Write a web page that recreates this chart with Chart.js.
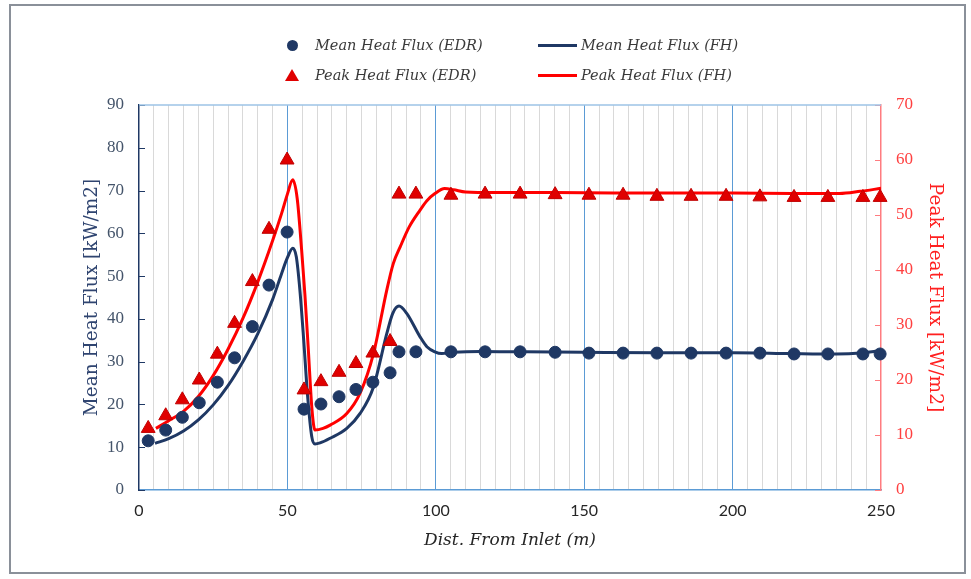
<!DOCTYPE html>
<html>
<head>
<meta charset="utf-8">
<script src="https://cdn.jsdelivr.net/npm/chart.js@4.4.1/dist/chart.umd.min.js"></script>
<style>
  html, body { margin: 0; padding: 0; background: #fff; }
  #wrap { position: relative; width: 971px; height: 579px; }
  #frame { position: absolute; left: 9px; top: 4px; width: 957px; height: 570px;
           border: 2px solid #8a9099; box-sizing: border-box; pointer-events: none; }
  .lg-text { position: absolute; font: italic 14.5px "DejaVu Serif"; color: #3a3a3a;
             line-height: 20px; white-space: nowrap; }
  .lg-dot { position: absolute; width: 11px; height: 11px; border-radius: 50%; }
  .lg-tri { position: absolute; width: 0; height: 0; border-left: 7px solid transparent;
            border-right: 7px solid transparent; }
  .lg-line { position: absolute; width: 39px; height: 3px; }
</style>
</head>
<body>
<div id="wrap">
  <canvas id="heatChart" width="971" height="579"></canvas>
  <div id="frame"></div>
  <div id="legend"></div>
</div>
<script>
// measured points (EDR)
const distEdr = [3.1, 9.0, 14.6, 20.3, 26.4, 32.2, 38.2, 43.8, 49.9, 55.6, 61.3, 67.4, 73.1, 78.8, 84.6,
  87.6, 93.3, 105.1, 116.6, 128.4, 140.2, 151.6, 163.1, 174.5, 186.0, 197.8, 209.2, 220.7, 232.1, 243.9, 249.7];
const meanEdr = [11.5, 14.0, 17.0, 20.4, 25.2, 30.9, 38.2, 47.9, 60.3, 18.9, 20.1, 21.8, 23.5, 25.2, 27.4,
  32.3, 32.3, 32.3, 32.3, 32.3, 32.2, 32.0, 32.0, 32.0, 32.0, 32.0, 32.0, 31.8, 31.8, 31.8, 31.8];
const peakEdr = [11.2, 13.5, 16.4, 20.0, 24.7, 30.3, 37.9, 47.4, 60.0, 18.2, 19.7, 21.4, 23.0, 24.9, 27.0,
  53.8, 53.8, 53.6, 53.8, 53.8, 53.7, 53.6, 53.6, 53.4, 53.4, 53.4, 53.3, 53.2, 53.2, 53.2, 53.2];

// FH model curves
const distMeanFh = [5.4, 10, 15, 20, 25, 30, 35, 40, 45, 48, 50, 51.8, 53, 54.2, 55.5, 56.8, 58.2, 59.3, 61,
  64.4, 70, 74.5, 79, 83.5, 85.5, 87.6, 90.2, 94.7, 97, 99.7, 102, 106, 115, 130, 150, 175, 200, 220, 235, 243, 250];
const meanFh = [10.9, 12.0, 13.8, 16.4, 19.9, 24.4, 30.0, 36.5, 44.5, 50.5, 54.3, 56.5, 54.5, 46.8, 35.0, 22.0, 12.5, 10.75, 11.0,
  12.1, 14.4, 17.9, 24.1, 36.6, 41.3, 43.0, 41.3, 35.8, 33.5, 32.3, 31.9, 32.2, 32.4, 32.3, 32.2, 32.1, 32.1, 31.9, 31.8, 32.0, 32.6];
const distPeakFh = [5.7, 10, 15, 20, 25, 30, 35, 40, 45, 48, 50, 51.8, 53.3, 54.8, 55.9, 57, 58.3, 59.3, 62,
  64.4, 70, 74.5, 79, 83.5, 85.7, 88, 91, 94.7, 97, 99.7, 103, 106, 110, 120, 140, 160, 180, 200, 220, 236, 243, 250];
const peakFh = [11.2, 12.6, 14.3, 17.0, 20.8, 25.6, 31.2, 37.8, 45.3, 50.2, 53.8, 56.4, 53.0, 43.6, 35.5, 26.0, 14.5, 10.9, 11.2,
  11.8, 13.9, 17.6, 24.8, 36.4, 41.2, 44.2, 47.8, 50.9, 52.6, 53.9, 54.8, 54.6, 54.2, 54.1, 54.1, 54.0, 54.0, 54.0, 53.9, 53.9, 54.3, 54.85];

const NAVY = '#1f3864';
const RED = '#ff0000';
const TRI = '#e00000';

const pairs = (xs, ys) => xs.map((x, i) => ({ x: x, y: ys[i] }));

const seriesNames = ['Mean Heat Flux (EDR)', 'Mean Heat Flux (FH)', 'Peak Heat Flux (EDR)', 'Peak Heat Flux (FH)'];

// tick marks drawn on the inside of both value axes, plus the light top edge
const innerTicks = {
  id: 'innerTicks',
  afterDraw(chart) {
    const { ctx, chartArea } = chart;
    ctx.save();
    ctx.lineWidth = 1;
    [['y', NAVY, 1], ['y1', '#ff7c80', -1]].forEach(([id, color, dir]) => {
      const s = chart.scales[id];
      const x0 = dir > 0 ? chartArea.left : chartArea.right;
      ctx.strokeStyle = color;
      s.ticks.forEach(t => {
        const py = Math.round(s.getPixelForValue(t.value)) + 0.5;
        ctx.beginPath();
        ctx.moveTo(x0, py);
        ctx.lineTo(x0 + dir * 6, py);
        ctx.stroke();
      });
    });
    ctx.strokeStyle = '#9dc3e6';
    ctx.lineWidth = 1.5;
    ctx.beginPath();
    ctx.moveTo(chartArea.left, chartArea.top);
    ctx.lineTo(chartArea.right, chartArea.top);
    ctx.stroke();
    ctx.restore();
  }
};

new Chart(document.getElementById('heatChart'), {
  data: {
    datasets: [{
      type: 'scatter',
      label: seriesNames[0],
      data: pairs(distEdr, meanEdr),
      yAxisID: 'y',
      pointStyle: 'circle',
      pointRadius: 6,
      backgroundColor: NAVY,
      borderColor: NAVY,
      clip: false,
      order: 0
    }, {
      type: 'line',
      label: seriesNames[1],
      data: pairs(distMeanFh, meanFh),
      yAxisID: 'y',
      borderColor: NAVY,
      borderWidth: 3,
      pointRadius: 0,
      cubicInterpolationMode: 'monotone',
      order: 1
    }, {
      type: 'scatter',
      label: seriesNames[2],
      data: pairs(distEdr, peakEdr),
      yAxisID: 'y1',
      pointStyle: 'triangle',
      pointRadius: 8,
      backgroundColor: TRI,
      borderColor: '#c00000',
      borderWidth: 1,
      clip: false,
      order: 0
    }, {
      type: 'line',
      label: seriesNames[3],
      data: pairs(distPeakFh, peakFh),
      yAxisID: 'y1',
      borderColor: RED,
      borderWidth: 3,
      pointRadius: 0,
      cubicInterpolationMode: 'monotone',
      order: 1
    }]
  },
  options: {
    responsive: false,
    animation: false,
    layout: { padding: { top: 105, left: 0, right: 0, bottom: 0 } },
    plugins: { legend: { display: false }, tooltip: { enabled: false } },
    scales: {
      x: {
        type: 'linear',
        min: 0, max: 250,
        afterFit: s => { s.height = 89; },
        ticks: {
          stepSize: 5,
          autoSkip: false,
          maxRotation: 0,
          padding: 11,
          color: '#262626',
          font: { family: 'Lato', size: 16 },
          callback: v => (v % 50 === 0 ? String(v) : '')
        },
        grid: {
          drawTicks: false,
          lineWidth: 1,
          color: ctx => {
            const v = ctx.tick ? ctx.tick.value : 0;
            if (v === 0 || v === 250) return 'rgba(0,0,0,0)';
            return v % 50 === 0 ? '#5b9bd5' : '#d9d9d9';
          }
        },
        border: { color: '#5b9bd5', width: 1.5 },
        title: {
          display: true,
          text: 'Dist. From Inlet (m)',
          color: '#262626',
          font: { family: 'DejaVu Serif', size: 17, style: 'italic' },
          padding: { top: 0, bottom: 28 }
        }
      },
      y: {
        position: 'left',
        min: 0, max: 90,
        afterFit: s => { s.width = 139; },
        ticks: { stepSize: 10, padding: 15, color: '#44546a', font: { family: 'Liberation Serif', size: 17 } },
        grid: { drawOnChartArea: false, drawTicks: false },
        border: { color: NAVY, width: 1.5 },
        title: {
          display: true,
          text: 'Mean Heat Flux [kW/m2]',
          color: '#2f4470',
          font: { family: 'DejaVu Serif', size: 18.5 },
          padding: { top: 81, bottom: 0 }
        }
      },
      y1: {
        position: 'right',
        min: 0, max: 70,
        afterFit: s => { s.width = 90; },
        ticks: { stepSize: 10, padding: 15, color: '#ff4040', font: { family: 'Liberation Serif', size: 17 } },
        grid: { drawOnChartArea: false, drawTicks: false },
        border: { color: '#ff7c80', width: 1.5 },
        title: {
          display: true,
          text: 'Peak Heat Flux [kW/m2]',
          color: '#ff2020',
          font: { family: 'DejaVu Serif', size: 18.5 },
          padding: { top: 25, bottom: 0 }
        }
      }
    }
  },
  plugins: [innerTicks]
});

// two-column legend above the plot
const legend = document.getElementById('legend');
const items = [
  { kind: 'dot', color: NAVY, x: 287, y: 45, tx: 315, text: seriesNames[0] },
  { kind: 'line', color: NAVY, x: 538, y: 45, tx: 581, text: seriesNames[1] },
  { kind: 'tri', color: TRI, x: 285, y: 75, tx: 315, text: seriesNames[2] },
  { kind: 'line', color: RED, x: 538, y: 75, tx: 581, text: seriesNames[3] }
];
items.forEach(it => {
  const m = document.createElement('div');
  if (it.kind === 'dot') {
    m.className = 'lg-dot';
    m.style.left = it.x + 'px'; m.style.top = (it.y - 5.5) + 'px';
    m.style.background = it.color;
  } else if (it.kind === 'tri') {
    m.className = 'lg-tri';
    m.style.left = it.x + 'px'; m.style.top = (it.y - 6) + 'px';
    m.style.borderBottom = '12px solid ' + it.color;
  } else {
    m.className = 'lg-line';
    m.style.left = it.x + 'px'; m.style.top = (it.y - 1.5) + 'px';
    m.style.background = it.color;
  }
  legend.appendChild(m);
  const t = document.createElement('div');
  t.className = 'lg-text';
  t.style.left = it.tx + 'px'; t.style.top = (it.y - 10) + 'px';
  t.textContent = it.text;
  legend.appendChild(t);
});
</script>
</body>
</html>
